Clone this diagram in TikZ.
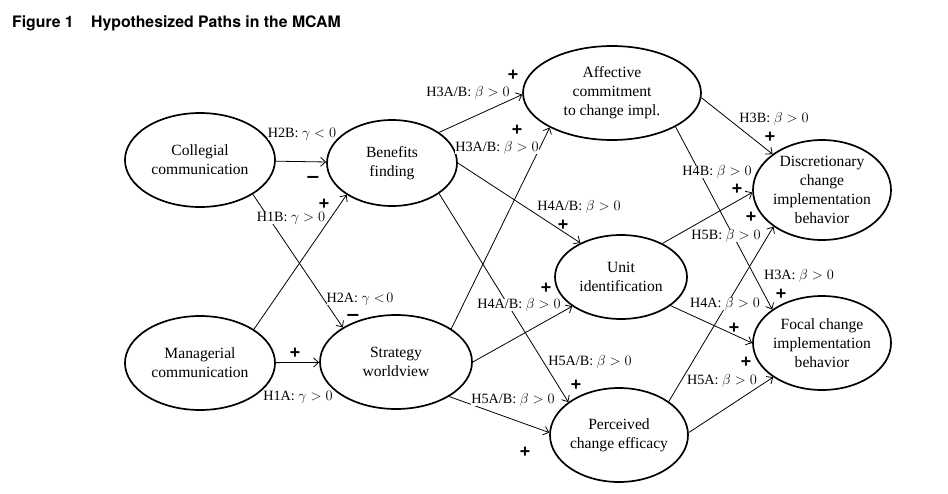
\documentclass[tikz,border=0pt]{standalone}
\usepackage{fontspec}
\setmainfont{Liberation Serif}
\newfontfamily\headfont{TeX Gyre Heros}
\usepackage{tikz}
\usetikzlibrary{arrows.meta, positioning, shapes.geometric}

\tikzset{
  construct/.style={draw, ellipse, line width=1.7pt, inner sep=-2pt, align=center,
    font=\fontsize{15.6}{19}\selectfont},
  hyp/.style={-{Straight Barb[length=5pt,width=9pt]}, line width=0.8pt},
  hyplabel/.style={fill=white, inner sep=0pt, font=\fontsize{14.2}{16}\selectfont},
  sign/.style={inner sep=0pt, font=\fontsize{19.5}{19.5}\headfont\bfseries}
}

\begin{document}
\begin{tikzpicture}[x=1pt, y=-1pt]
\useasboundingbox (0,0) rectangle (948,493);

% ===== TITLE =====
\node[anchor=base west, inner sep=0pt, font=\fontsize{15.8}{18}\headfont\bfseries] (fig) at (12,27) {Figure 1};
\node[anchor=base west, inner sep=0pt, font=\fontsize{15.8}{18}\headfont\bfseries] (title) at (91,27) {Hypothesized Paths in the MCAM};

% ===== CONSTRUCTS =====
\node[construct, minimum width=150pt, minimum height=94pt] (coll) at (200,160) {Collegial\\communication};
\node[construct, minimum width=150pt, minimum height=94pt] (manag) at (200,363) {Managerial\\communication};
\node[construct, minimum width=130pt, minimum height=86pt] (bene) at (392,163) {Benefits\\finding};
\node[construct, minimum width=152pt, minimum height=94pt] (strat) at (396,362) {Strategy\\worldview};
\node[construct, minimum width=178pt, minimum height=94pt] (affect) at (612,93) {Affective\\commitment\\to change impl.};
\node[construct, minimum width=132pt, minimum height=84pt] (unit) at (621,277) {Unit\\identification};
\node[construct, minimum width=138pt, minimum height=94pt] (effic) at (619,435) {Perceived\\change efficacy};
\node[construct, minimum width=138pt, minimum height=100pt] (discr) at (822,190) {Discretionary\\change\\implementation\\behavior};
\node[construct, minimum width=138pt, minimum height=94pt] (focal) at (822,343) {Focal change\\implementation\\behavior};

% ===== PATHS =====
\draw[hyp] (coll) -- (bene);
\draw[hyp] (coll.-33) -- (strat.147);
\draw[hyp] (manag.32) -- (bene.-145);
\draw[hyp] (manag) -- (strat);
\draw[hyp] (bene.33) -- (affect.181);
\draw[hyp] (strat.31) -- (affect.209);
\draw[hyp] (bene.east) -- (unit.140);
\draw[hyp] (bene.-33) -- (effic.147);
\draw[hyp] (strat.east) -- (unit.211);
\draw[hyp] (strat.-33) -- (effic.178);
\draw[hyp] (affect.-3) -- (discr.144);
\draw[hyp] (affect.-28) -- (focal.146);
\draw[hyp] (unit.39) -- (discr.182);
\draw[hyp] (unit.-30) -- (focal.180);
\draw[hyp] (effic.34) -- (discr.217);
\draw[hyp] (effic.2) -- (focal.215);

% ===== HYPOTHESIS LABELS =====
\node[hyplabel] (h2b) at (302,134) {H2B: $\gamma < 0$};
\node[hyplabel] (h1b) at (291,218) {H1B: $\gamma > 0$};
\node[hyplabel] (h2a) at (360,299) {H2A: $\gamma <\!0$};
\node[hyplabel] (h1a) at (298,397) {H1A: $\gamma > 0$};
\node[hyplabel] (h3ab1) at (468,93) {H3A/B: $\beta > 0$};
\node[hyplabel] (h3ab2) at (497,148) {H3A/B: $\beta > 0$};
\node[hyplabel] (h4ab1) at (579,207) {H4A/B: $\beta > 0$};
\node[hyplabel] (h4ab2) at (519,305) {H4A/B: $\beta > 0$};
\node[hyplabel] (h5ab1) at (590,362) {H5A/B: $\beta > 0$};
\node[hyplabel] (h5ab2) at (513,400) {H5A/B: $\beta > 0$};
\node[hyplabel] (h3b) at (774,119) {H3B: $\beta > 0$};
\node[hyplabel] (h4b) at (717,172) {H4B: $\beta > 0$};
\node[hyplabel] (h5b) at (726,236) {H5B: $\beta > 0$};
\node[hyplabel] (h3a) at (799,276) {H3A: $\beta > 0$};
\node[hyplabel] (h4a) at (725,304) {H4A: $\beta > 0$};
\node[hyplabel] (h5a) at (722,381) {H5A: $\beta > 0$};

% signs of the paths
\foreach \x/\y [count=\i] in {324/204, 295/353, 513/75, 517/130, 563/225, 546/288, 576/385,
                               525/452, 770/137, 737/189, 751/217, 781/294, 734/328, 746/362} {
  \node[sign] (plus\i) at (\x,\y) {+};
}
\node[sign] (minus1) at (313,179) {–};
\node[sign] (minus2) at (353,317) {–};

\end{tikzpicture}
\end{document}
